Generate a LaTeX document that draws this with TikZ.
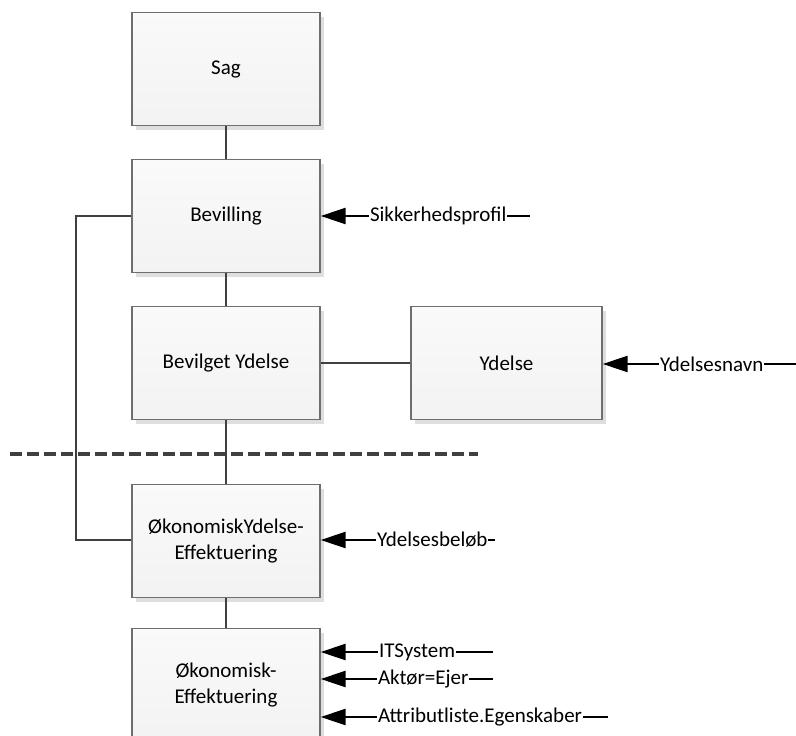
\documentclass[tikz,border=0pt]{standalone}
\usepackage{fontspec}
\setmainfont{Carlito}
\usetikzlibrary{arrows.meta,shadows}
\definecolor{linegray}{HTML}{404040}
\definecolor{boxborder}{HTML}{6E6E6E}
\tikzset{
  box/.style={draw=boxborder, line width=1.3pt, top color=white!98!black, bottom color=black!5,
    minimum width=188pt, minimum height=113pt, inner sep=0pt, align=center,
    font=\fontsize{21}{26}\selectfont,
    drop shadow={shadow xshift=4pt, shadow yshift=-4pt, fill=black!13, opacity=1}},
  conn/.style={draw=linegray, line width=2.6pt},
  attr/.style={draw=black, line width=2.4pt, -{Triangle[length=25pt,width=16pt]}},
  lbl/.style={fill=white, inner xsep=0.8pt, inner ysep=1pt, anchor=west, font=\fontsize{21}{26}\selectfont}
}
\begin{document}
\begin{tikzpicture}[x=1pt,y=-1pt]
\useasboundingbox (0,0) rectangle (796,736);
% dashed separator
\draw[linegray, line width=4pt, dash pattern=on 12pt off 5pt] (10,454) -- (478,454);
% boxes
\node[box] (sag) at (226,69) {Sag};
\node[box] (bev) at (226,216) {Bevilling};
\node[box] (bevy) at (226,363) {Bevilget Ydelse};
\node[box, minimum width=191pt] (yd) at (506.5,363) {Ydelse};
\node[box] (oye) at (226,541) {ØkonomiskYdelse-\\Effektuering};
\node[box] (oe) at (226,685) {Økonomisk-\\Effektuering};
% connectors
\draw[conn] (sag) -- (bev);
\draw[conn] (bev) -- (bevy);
\draw[conn] (bevy) -- (oye);
\draw[conn] (oye) -- (oe);
\draw[conn] (bevy) -- (yd);
\coordinate (lt) at (76,216);
\coordinate (lb) at (76,540);
\draw[conn] (bev.west) -- (lt) -- (lb) -- (oye.west |- lb);
% attribute arrows
\coordinate (e1) at (530,216);
\draw[attr] (e1) -- (bev.east);
\node[lbl] (t1) at (369,216) {Sikkerhedsprofil};
\coordinate (e2) at (796,364);
\draw[attr] (e2) -- (yd.east |- e2);
\node[lbl] (t2) at (659,364) {Ydelsesnavn};
\coordinate (e3) at (495,540);
\draw[attr] (e3) -- (oye.east |- e3);
\node[lbl] (t3) at (376,540) {Ydelsesbeløb};
\coordinate (e4) at (493,652);
\draw[attr] (e4) -- (oe.east |- e4);
\node[lbl] (t4) at (378,652) {ITSystem};
\coordinate (e5) at (493,679);
\draw[attr] (e5) -- (oe.east |- e5);
\node[lbl] (t5) at (377,679) {Aktør=Ejer};
\coordinate (e6) at (608,717);
\draw[attr] (e6) -- (oe.east |- e6);
\node[lbl] (t6) at (377,717) {Attributliste.Egenskaber};
\end{tikzpicture}
\end{document}
